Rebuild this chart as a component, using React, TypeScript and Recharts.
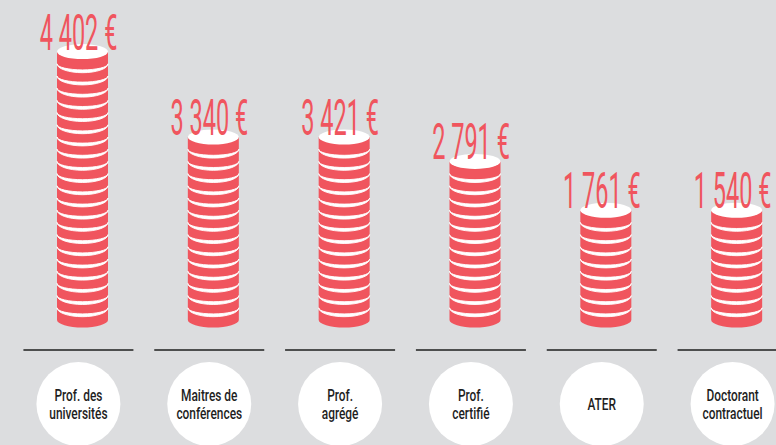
import React from "react";
import { BarChart, Bar, XAxis, YAxis, LabelList } from "recharts";

// Salaires nets mensuels moyens, chaque pile de pièces
const categories = [
  "Prof. des|universités",
  "Maitres de|conférences",
  "Prof.|agrégé",
  "Prof.|certifié",
  "ATER",
  "Doctorant|contractuel",
];
const salaries = [4402, 3340, 3421, 2791, 1761, 1540];
// number of coins drawn in each stack
const coins = [22, 15, 15, 13, 9, 9];

const BG = "#dcdddf";
const RED = "#f0555e";
const INK = "#1e1e1e";

const data = categories.map((name, i) => ({ name, value: salaries[i], coins: coins[i] }));

const fmt = (v: number) => `${v.toLocaleString("fr-FR").replace(/\s/g, " ")} €`;

function CoinStack(props: any) {
  const { x, y, width, height } = props;
  const n: number = props.payload?.coins ?? props.coins ?? 1;
  const pitch = height / n;
  const left = x + 2;
  const right = left + width;
  const cx = left + width / 2;
  const rx = width / 2;
  const ry = 7.5;
  const seps = [];
  for (let k = 1; k < n; k++) {
    const yk = y + k * pitch;
    seps.push(
      <path
        key={k}
        d={`M${left},${yk} A${rx},${ry + 1.4} 0 0 0 ${right},${yk} A${rx},${ry - 1.4} 0 0 1 ${left},${yk} Z`}
        fill="#fff"
        stroke="#fff"
        strokeWidth={0.9}
      />
    );
  }
  return (
    <g>
      <path
        d={`M${left},${y} L${left},${y + height} A${rx},${ry} 0 0 0 ${right},${y + height} L${right},${y} Z`}
        fill={RED}
      />
      {seps}
      <ellipse cx={cx} cy={y} rx={rx} ry={ry} fill="#fff" />
    </g>
  );
}

function ValueLabel(props: any) {
  const { x, y, width, value } = props;
  const cx = x + width / 2 - 2;
  return (
    <text
      transform={`translate(${cx},${y - 2}) scale(0.47,1)`}
      x={0}
      y={0}
      textAnchor="middle"
      fill={RED}
      fontFamily="Roboto, sans-serif"
      fontWeight={400}
      fontSize={50}
    >
      {fmt(value)}
    </text>
  );
}

function CategoryTick(props: any) {
  const { x, y, payload } = props;
  const cx = x - 2;
  const lines: string[] = String(payload.value).split("|");
  const lh = 18;
  const base = y + 84 + 6 - ((lines.length - 1) * lh) / 2;
  return (
    <g>
      <line x1={cx - 55} x2={cx + 55} y1={y + 30} y2={y + 30} stroke={INK} strokeWidth={1.5} />
      <circle cx={cx} cy={y + 84} r={42} fill="#fff" />
      <text
        transform={`translate(${cx},${base}) scale(0.7,1)`}
        x={0}
        y={0}
        textAnchor="middle"
        fill={INK}
        fontFamily="Roboto, sans-serif"
        fontWeight={500}
        fontSize={17}
      >
        {lines.map((l, i) => (
          <tspan key={i} x={0} dy={i === 0 ? 0 : lh}>
            {l}
          </tspan>
        ))}
      </text>
    </g>
  );
}

export default function App() {
  return (
    <div
      style={{
        position: "fixed",
        left: 0,
        top: 0,
        width: 776,
        height: 445,
        overflow: "hidden",
        background: BG,
      }}
    >
      <BarChart width={800} height={445} data={data} margin={{ top: 15, right: 0, bottom: 0, left: 15 }}>
        <XAxis
          dataKey="name"
          height={125}
          axisLine={false}
          tickLine={false}
          tickSize={0}
          tickMargin={0}
          interval={0}
          tick={<CategoryTick />}
        />
        <YAxis hide domain={[0, 25]} />
        <Bar dataKey="coins" barSize={51} shape={<CoinStack />} isAnimationActive={false}>
          <LabelList dataKey="value" content={<ValueLabel />} />
        </Bar>
      </BarChart>
    </div>
  );
}
